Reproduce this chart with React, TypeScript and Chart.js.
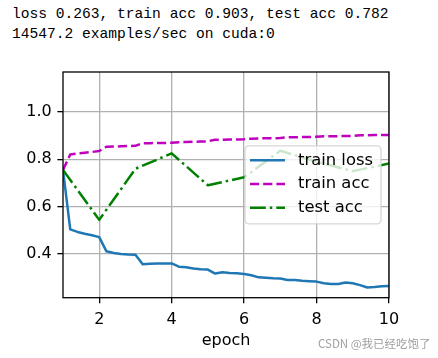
import React, { useEffect, useRef } from 'react';
import { Chart, registerables } from 'chart.js';

Chart.register(...registerables);

const headerLines = [
  'loss 0.263, train acc 0.903, test acc 0.782',
  '14547.2 examples/sec on cuda:0',
];
const seriesNames = ['train loss', 'train acc', 'test acc'];
const xLabel = 'epoch';
const watermark = 'CSDN @我已经吃饱了';

const stepEpochs = [
  1.0, 1.2, 1.4, 1.6, 1.8, 2.0, 2.2, 2.4, 2.6, 2.8, 3.0, 3.2, 3.4, 3.6, 3.8, 4.0,
  4.2, 4.4, 4.6, 4.8, 5.0, 5.2, 5.4, 5.6, 5.8, 6.0, 6.2, 6.4, 6.6, 6.8, 7.0,
  7.2, 7.4, 7.6, 7.8, 8.0, 8.2, 8.4, 8.6, 8.8, 9.0, 9.2, 9.4, 9.6, 9.8, 10.0,
];
const trainLoss = [
  0.755, 0.504, 0.493, 0.485, 0.479, 0.471, 0.411, 0.404, 0.4, 0.398, 0.397,
  0.356, 0.358, 0.36, 0.36, 0.36, 0.346, 0.344, 0.338, 0.335, 0.334,
  0.317, 0.323, 0.319, 0.318, 0.315, 0.31, 0.301, 0.299, 0.297, 0.296,
  0.29, 0.29, 0.287, 0.285, 0.283, 0.276, 0.273, 0.273, 0.279, 0.276,
  0.268, 0.258, 0.26, 0.263, 0.264,
];
const trainAcc = [
  0.755, 0.82, 0.825, 0.828, 0.831, 0.835, 0.853, 0.854, 0.855, 0.856, 0.857,
  0.868, 0.868, 0.869, 0.869, 0.87, 0.872, 0.873, 0.874, 0.875, 0.876,
  0.883, 0.883, 0.884, 0.884, 0.885, 0.887, 0.888, 0.889, 0.889, 0.89,
  0.893, 0.893, 0.894, 0.894, 0.895, 0.897, 0.897, 0.898, 0.898, 0.899,
  0.902, 0.902, 0.903, 0.903, 0.903,
];
const testEpochs = [1, 2, 3, 4, 5, 6, 7, 8, 9, 10];
const testAcc = [0.755, 0.544, 0.76, 0.825, 0.69, 0.724, 0.836, 0.79, 0.75, 0.782];

const xTicks = [2, 4, 6, 8, 10];
const yTicks = [0.4, 0.6, 0.8, 1.0];
const xRange = [1, 10];
const yRange = [0.215, 1.169];

export default function App() {
  const ref = useRef<HTMLCanvasElement>(null);

  useEffect(() => {
    const canvas = ref.current;
    if (!canvas) return;
    const family = "'DejaVu Sans', sans-serif";
    const colors = ['#1f77b4', '#bf00bf', '#008000'];
    const dashes: number[][] = [[], [9.2, 4], [15.8, 4, 2.5, 4]];
    const lw = 2.5;

    const mplFrame = {
      id: 'mplFrame',
      afterDatasetsDraw(chart: any) {
        const { ctx, chartArea: a } = chart;
        ctx.save();
        // spines
        ctx.strokeStyle = '#000';
        ctx.lineWidth = 1.3;
        ctx.setLineDash([]);
        ctx.strokeRect(a.left, a.top, a.right - a.left, a.bottom - a.top);

        // legend
        ctx.font = `16.4px ${family}`;
        const textW = Math.max(...seriesNames.map((n) => ctx.measureText(n).width));
        const padL = 5, handle = 35, gap = 13, padR = 8, rowH = 23.8, boxH = 78;
        const w = padL + handle + gap + textW + padR;
        const right = a.right - 8;
        const left = right - w;
        const cy = (a.top + a.bottom) / 2;
        const top = cy - boxH / 2;
        ctx.beginPath();
        ctx.roundRect(left, top, w, boxH, 4);
        ctx.fillStyle = 'rgba(255,255,255,0.8)';
        ctx.fill();
        ctx.strokeStyle = 'rgba(204,204,204,0.8)';
        ctx.lineWidth = 1.3;
        ctx.stroke();
        seriesNames.forEach((name, i) => {
          const y = cy - 0.8 + (i - 1) * rowH;
          ctx.beginPath();
          ctx.setLineDash(dashes[i]);
          ctx.strokeStyle = colors[i];
          ctx.lineWidth = lw;
          ctx.lineCap = 'butt';
          ctx.moveTo(left + padL, y);
          ctx.lineTo(left + padL + handle, y);
          ctx.stroke();
          ctx.setLineDash([]);
          ctx.fillStyle = '#000';
          ctx.textBaseline = 'middle';
          ctx.textAlign = 'left';
          ctx.fillText(name, left + padL + handle + gap, y);
        });
        ctx.restore();
      },
    };

    const gridOpts = {
      color: '#b0b0b0',
      lineWidth: 1.3,
      tickColor: '#000',
      tickWidth: 1.3,
      tickLength: 5.6,
      drawTicks: true,
    };

    const chart = new Chart(canvas, {
      type: 'line',
      data: {
        datasets: [
          {
            label: seriesNames[0],
            data: stepEpochs.map((x, i) => ({ x, y: trainLoss[i] })),
            borderColor: colors[0],
            borderWidth: lw,
            borderDash: dashes[0],
            borderJoinStyle: 'round',
            pointRadius: 0,
            fill: false,
            tension: 0,
            order: 3,
          },
          {
            label: seriesNames[1],
            data: stepEpochs.map((x, i) => ({ x, y: trainAcc[i] })),
            borderColor: colors[1],
            borderWidth: lw,
            borderDash: dashes[1],
            borderJoinStyle: 'round',
            pointRadius: 0,
            fill: false,
            tension: 0,
            order: 2,
          },
          {
            label: seriesNames[2],
            data: testEpochs.map((x, i) => ({ x, y: testAcc[i] })),
            borderColor: colors[2],
            borderWidth: lw,
            borderDash: dashes[2],
            borderJoinStyle: 'round',
            pointRadius: 0,
            fill: false,
            tension: 0,
            order: 1,
          },
        ],
      },
      options: {
        animation: false,
        responsive: false,
        devicePixelRatio: 1,
        events: [],
        layout: { padding: { left: 0, top: 72, right: 49, bottom: 0 } },
        plugins: { legend: { display: false }, tooltip: { enabled: false } },
        scales: {
          x: {
            type: 'linear',
            min: xRange[0],
            max: xRange[1],
            afterBuildTicks: (ax: any) => {
              ax.ticks = xTicks.map((v) => ({ value: v }));
            },
            afterFit: (ax: any) => {
              ax.height = 60.3;
            },
            grid: gridOpts,
            border: { display: false },
            ticks: {
              color: '#000',
              font: { size: 16, family },
              padding: 7,
              maxRotation: 0,
              autoSkip: false,
              callback: (v: any) => String(v),
            },
            title: {
              display: true,
              text: xLabel,
              color: '#000',
              font: { size: 16, family },
              padding: { top: 0, bottom: 7.5 },
            },
          },
          y: {
            type: 'linear',
            min: yRange[0],
            max: yRange[1],
            afterBuildTicks: (ax: any) => {
              ax.ticks = yTicks.map((v) => ({ value: v }));
            },
            afterFit: (ax: any) => {
              ax.width = 63;
            },
            grid: gridOpts,
            border: { display: false },
            ticks: {
              color: '#000',
              font: { size: 16, family },
              padding: 5.6,
              autoSkip: false,
              callback: (v: any) => Number(v).toFixed(1),
            },
          },
        },
      },
      plugins: [mplFrame],
    } as any);

    return () => chart.destroy();
  }, []);

  return (
    <div
      style={{
        position: 'fixed',
        left: 0,
        top: 0,
        width: 438,
        height: 358,
        background: '#fff',
        overflow: 'hidden',
      }}
    >
      <div
        style={{
          position: 'absolute',
          left: 12,
          top: 4.4,
          fontFamily: "'Liberation Mono', monospace",
          fontSize: '14.6px',
          lineHeight: '20px',
          whiteSpace: 'pre',
          color: '#000',
        }}
      >
        {headerLines.map((l, i) => (
          <div key={i}>{l}</div>
        ))}
      </div>
      <canvas
        ref={ref}
        width={438}
        height={358}
        style={{ position: 'absolute', left: 0, top: 0, width: 438, height: 358 }}
      />
      <div
        style={{
          position: 'absolute',
          left: 318,
          top: 335.6,
          fontFamily: "'Noto Sans CJK SC', sans-serif",
          fontSize: '11.5px',
          lineHeight: '14px',
          whiteSpace: 'pre',
          color: '#a0a0a0',
        }}
      >
        {watermark}
      </div>
    </div>
  );
}
